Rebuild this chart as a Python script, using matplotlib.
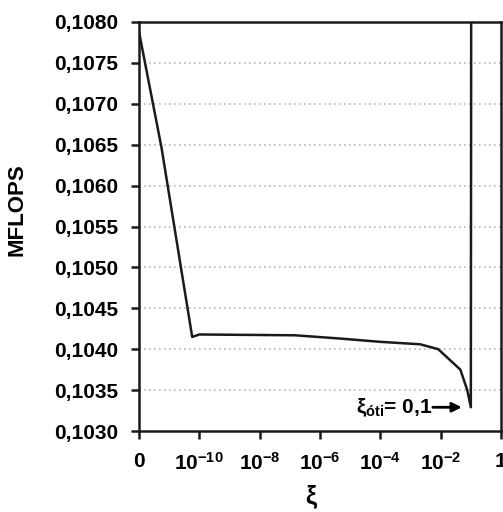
import numpy as np
import matplotlib
matplotlib.use("Agg")
import matplotlib.pyplot as plt

plt.rcParams['font.family'] = ['Liberation Sans', 'DejaVu Sans']
plt.rcParams['mathtext.fontset'] = 'custom'
plt.rcParams['mathtext.rm'] = 'Liberation Sans'
plt.rcParams['mathtext.bf'] = 'Liberation Sans:bold'
plt.rcParams['mathtext.it'] = 'Liberation Sans:italic'

# data (xi = 0 is drawn at the "0" position of the axis, i.e. 1e-12)
xi = [0, 5.6e-12, 5.8e-11, 1e-10, 1.5e-7, 4.7e-6, 1e-4, 2.1e-3, 8.3e-3, 4.5e-2, 7.6e-2, 0.1, 0.105]
mflops = [0.10788, 0.10646, 0.10415, 0.10418, 0.10417, 0.10413, 0.10409, 0.10406,
          0.10400, 0.10375, 0.10350, 0.10329, 0.1120]
xtick_vals = [1e-12, 1e-10, 1e-8, 1e-6, 1e-4, 1e-2, 1]
xtick_labels = ['0', r'$\mathbf{10^{-10}}$', r'$\mathbf{10^{-8}}$', r'$\mathbf{10^{-6}}$',
                r'$\mathbf{10^{-4}}$', r'$\mathbf{10^{-2}}$', '1']
ytick_vals = [0.1030, 0.1035, 0.1040, 0.1045, 0.1050, 0.1055, 0.1060, 0.1065, 0.1070, 0.1075, 0.1080]
ytick_labels = ['0,1030', '0,1035', '0,1040', '0,1045', '0,1050', '0,1055', '0,1060',
                '0,1065', '0,1070', '0,1075', '0,1080']

xi_plot = np.where(np.array(xi) == 0, 1e-12, np.array(xi))

fig = plt.figure(figsize=(5.03, 5.12), dpi=100)
ax = fig.add_axes([139/503, 1-431/512, (501-139)/503, (431-22)/512])

ax.plot(xi_plot, mflops, color='#1a1a1a', lw=1.8, clip_on=True)
ax.set_xscale('log')
ax.set_xlim(1e-12, 1)
ax.set_ylim(0.1030, 0.1080)
ax.set_xticks(xtick_vals)
ax.set_xticklabels(xtick_labels)
ax.minorticks_off()
ax.set_yticks(ytick_vals)
ax.set_yticklabels(ytick_labels)

for t in ax.get_xticklabels() + ax.get_yticklabels():
    t.set_fontweight('bold')
    t.set_fontsize(15)

for y in ytick_vals[1:-1]:
    ax.axhline(y, color='#b8b8b8', lw=1.2, ls=(0, (1, 2)), zorder=0)

for s in ax.spines.values():
    s.set_linewidth(1.8)
    s.set_color('#1a1a1a')

ax.tick_params(axis='both', direction='out', length=6, width=1.8, color='#1a1a1a')
ax.tick_params(axis='x', pad=9)
ax.tick_params(axis='y', pad=9)

fig.text(17/503, 1-210/512, 'MFLOPS', rotation=90, ha='center', va='center',
         fontweight='bold', fontsize=16)
fig.text(311/503, 1-497/512, 'ξ', ha='center', va='center', fontweight='bold', fontsize=18)

# annotation
ax.annotate('', xy=(0.05, 0.10329), xytext=(0.0055, 0.10329),
            arrowprops=dict(arrowstyle='-|>', lw=2, color='black', mutation_scale=14,
                            shrinkA=0, shrinkB=0))
ax.text(0.0055, 0.10329, r'$\mathbf{ξ_{óti}}$= 0,1', ha='right', va='center',
        fontweight='bold', fontsize=15)

fig.savefig('out.png', dpi=100)
